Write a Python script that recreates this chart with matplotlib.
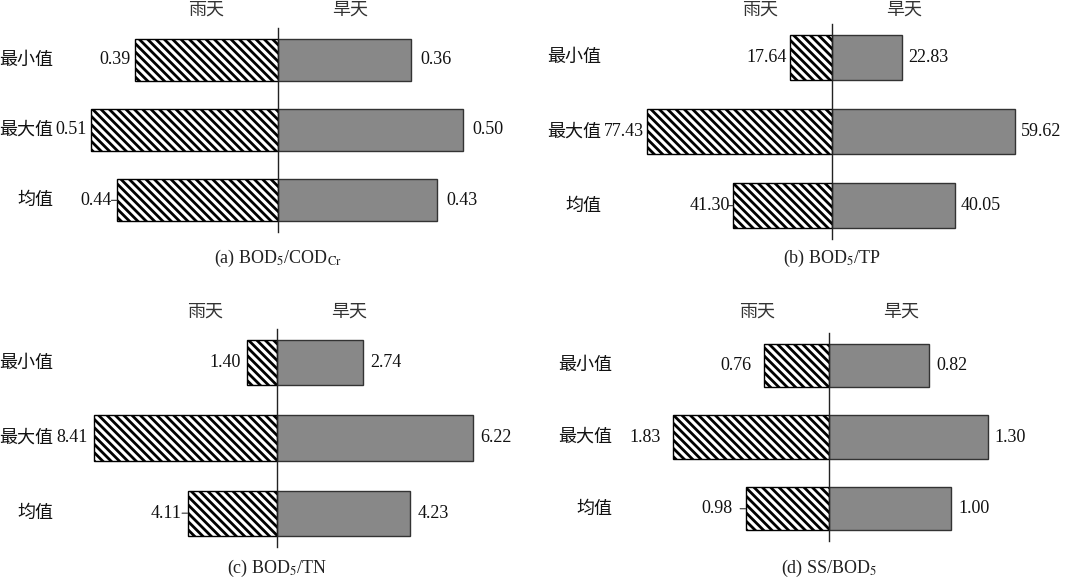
import matplotlib
matplotlib.use("Agg")
import matplotlib.pyplot as plt
from matplotlib.transforms import blended_transform_factory

plt.rcParams['font.family'] = ['Liberation Serif', 'Noto Sans CJK SC', 'DejaVu Sans']
plt.rcParams['mathtext.fontset'] = 'stix'
plt.rcParams['hatch.linewidth'] = 2.0

categories = ['最小值', '最大值', '均值']
side_labels = ['雨天', '旱天']

rain_a = [0.39, 0.51, 0.44]
dry_a = [0.36, 0.50, 0.43]
rain_b = [17.64, 77.43, 41.30]
dry_b = [22.83, 59.62, 40.05]
rain_c = [1.40, 8.41, 4.11]
dry_c = [2.74, 6.22, 4.23]
rain_d = [0.76, 1.83, 0.98]
dry_d = [0.82, 1.30, 1.00]

titles = [r'(a) BOD$_5$/COD$_{\rm Cr}$', r'(b) BOD$_5$/TP',
          r'(c) BOD$_5$/TN', r'(d) SS/BOD$_5$']

W, H = 1080, 580
fig = plt.figure(figsize=(W / 100, H / 100), dpi=100)

# layout per panel: center x, axes top, axes bottom, px/unit left, px/unit right,
# category label right edge, side-label y, subtitle y, label gaps (px)
panels = [
    dict(rain=rain_a, dry=dry_a, cx=278, top=28, bot=232, sl=366, sr=369, catx=53, ly=10, ty=258, lg=5, rg=10),
    dict(rain=rain_b, dry=dry_b, cx=832, top=24, bot=239, sl=2.39, sr=3.07, catx=601, ly=10, ty=258, lg=3, rg=6),
    dict(rain=rain_c, dry=dry_c, cx=277, top=329, bot=547, sl=21.75, sr=31.5, catx=53, ly=312, ty=568, lg=6, rg=7),
    dict(rain=rain_d, dry=dry_d, cx=829, top=333, bot=541, sl=85, sr=122, catx=612, ly=312, ty=568, lg=13, rg=7),
]

half = 230
gray = '#888888'
fs = 13

for p, title in zip(panels, titles):
    cx, top, bot = p['cx'], p['top'], p['bot']
    y0 = 1 - bot / H
    h = (bot - top) / H
    axl = fig.add_axes([(cx - half) / W, y0, half / W, h])
    axr = fig.add_axes([cx / W, y0, half / W, h])
    axl.set_xlim(half / p['sl'], 0)
    axr.set_xlim(0, half / p['sr'])
    pos = list(range(len(categories)))
    for ax in (axl, axr):
        ax.set_ylim(2.45, -0.45)
        ax.set_facecolor('none')
        for s in ax.spines.values():
            s.set_visible(False)
        ax.set_xticks([])
        ax.set_yticks([])
    axr.spines['left'].set_visible(True)
    axr.spines['left'].set_linewidth(1.0)
    axr.spines['left'].set_color('#222222')

    axl.barh(pos, p['rain'], height=0.6, color='white', edgecolor='black',
             hatch='\\\\\\\\', linewidth=1.0, zorder=2)
    axr.barh(pos, p['dry'], height=0.6, color=gray, edgecolor='#333333',
             linewidth=1.0, zorder=2)

    lg = p['lg'] * 0.72
    rg = p['rg'] * 0.72
    for i, v in enumerate(p['rain']):
        axl.annotate(f'{v:.2f}', xy=(v, i), xytext=(-lg, 0), textcoords='offset points',
                     ha='right', va='center', fontsize=fs, color='#111111')
    for i, v in enumerate(p['dry']):
        axr.annotate(f'{v:.2f}', xy=(v, i), xytext=(rg, 0), textcoords='offset points',
                     ha='left', va='center', fontsize=fs, color='#111111')
    # small tick on the mean rain bar
    axl.annotate('', xy=(p['rain'][2], 2), xytext=(-4, 0), textcoords='offset points',
                 arrowprops=dict(arrowstyle='-', color='#333333', lw=0.8,
                                 shrinkA=0, shrinkB=0))

    tr = blended_transform_factory(fig.transFigure, axl.transData)
    for i, c in enumerate(categories):
        fig.text(p['catx'] / W, i, c, transform=tr, ha='right', va='center',
                 fontsize=13, family=['Noto Sans CJK SC'], color='#111111')

    fig.text((cx - 72) / W, 1 - p['ly'] / H, side_labels[0], ha='center', va='center',
             fontsize=13, family=['Noto Sans CJK SC'], color='#333333')
    fig.text((cx + 72) / W, 1 - p['ly'] / H, side_labels[1], ha='center', va='center',
             fontsize=13, family=['Noto Sans CJK SC'], color='#333333')
    fig.text(cx / W, 1 - p['ty'] / H, title, ha='center', va='center',
             fontsize=fs, color='#222222')

fig.savefig('out.png', dpi=100, facecolor='white')
